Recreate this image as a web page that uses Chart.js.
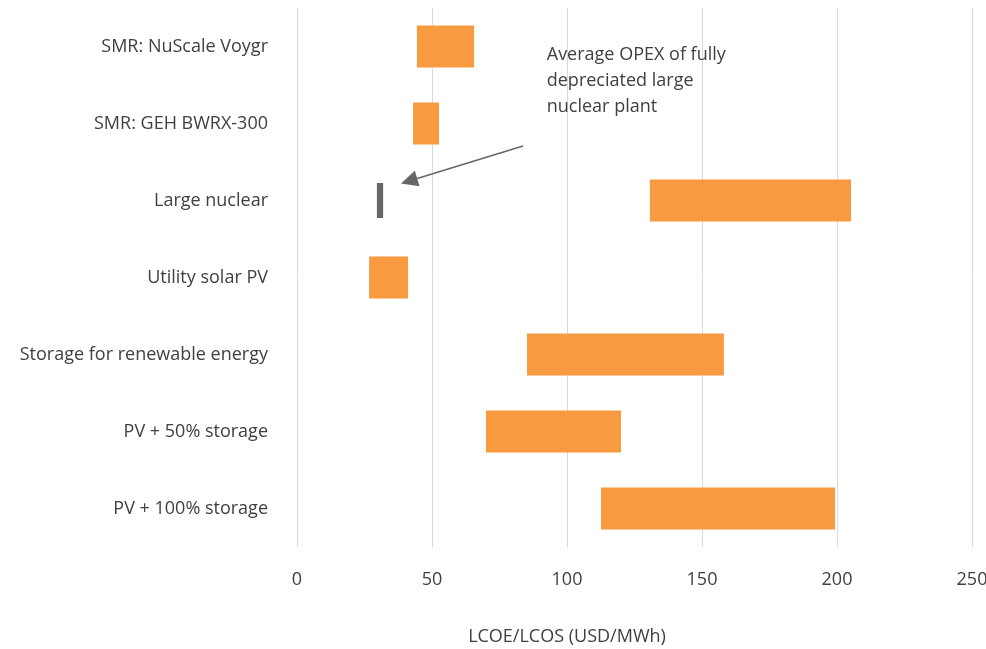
<!DOCTYPE html>
<html>
<head>
<meta charset="utf-8">
<script src="https://cdn.jsdelivr.net/npm/chart.js@4"></script>
<style>
  html, body { margin: 0; padding: 0; background: #fff; }
  #wrap { width: 986px; height: 649px; }
</style>
</head>
<body>
<div id="wrap"><canvas id="c" width="986" height="649"></canvas></div>
<script>
// categorias y rangos (USD/MWh)
const categorias = [
  'SMR: NuScale Voygr',
  'SMR: GEH BWRX-300',
  'Large nuclear',
  'Utility solar PV',
  'Storage for renewable energy',
  'PV + 50% storage',
  'PV + 100% storage'
];
const rangoMin = [44.4, 43.0, 130.7, 26.7, 85.2, 70.0, 112.6];
const rangoMax = [65.6, 52.6, 205.2, 41.1, 158.1, 120.0, 199.3];

// OPEX medio de nuclear grande amortizada
const opexMin = [null, null, 29.6, null, null, null, null];
const opexMax = [null, null, 31.9, null, null, null, null];

const ticksX = [0, 50, 100, 150, 200, 250];
const tituloX = 'LCOE/LCOS (USD/MWh)';
const notaTexto = ['Average OPEX of fully', 'depreciated large', 'nuclear plant'];

const FUENTE = '"Open Sans", "Noto Sans", sans-serif';
const GRIS_TEXTO = '#404040';

// plugin para el titulo del eje y la flecha de la nota
const extras = {
  id: 'extras',
  afterDraw(chart) {
    const ctx = chart.ctx;
    const x = chart.scales.x;
    const y = chart.scales.y;
    ctx.save();
    ctx.fillStyle = GRIS_TEXTO;
    ctx.font = '18px ' + FUENTE;
    ctx.textAlign = 'center';
    ctx.textBaseline = 'middle';
    ctx.fillText(tituloX, x.getPixelForValue(100), 637);

    // texto de la nota
    ctx.textAlign = 'left';
    const nx = x.getPixelForValue(92.5);
    notaTexto.forEach((t, i) => ctx.fillText(t, nx, 55 + i * 26));

    // flecha
    const x0 = x.getPixelForValue(83.7), y0 = 146;
    const x1 = x.getPixelForValue(38.5), y1 = y.getPixelForValue(2) - 17;
    const ang = Math.atan2(y1 - y0, x1 - x0);
    const largo = 17;
    const bx = x1 - largo * Math.cos(ang), by = y1 - largo * Math.sin(ang);
    ctx.strokeStyle = '#666666';
    ctx.fillStyle = '#666666';
    ctx.lineWidth = 1.5;
    ctx.beginPath();
    ctx.moveTo(x0, y0);
    ctx.lineTo(bx, by);
    ctx.stroke();
    ctx.beginPath();
    ctx.moveTo(x1, y1);
    ctx.lineTo(bx + 8 * Math.sin(ang), by - 8 * Math.cos(ang));
    ctx.lineTo(bx - 8 * Math.sin(ang), by + 8 * Math.cos(ang));
    ctx.closePath();
    ctx.fill();
    ctx.restore();
  }
};

new Chart(document.getElementById('c'), {
  type: 'bar',
  data: {
    labels: categorias,
    datasets: [
      {
        label: 'Rango',
        data: rangoMin.map((v, i) => [v, rangoMax[i]]),
        backgroundColor: '#F79A40',
        barPercentage: 0.545,
        categoryPercentage: 1,
        grouped: false
      },
      {
        label: 'OPEX',
        data: opexMin.map((v, i) => v === null ? null : [v, opexMax[i]]),
        backgroundColor: '#666666',
        barPercentage: 0.455,
        categoryPercentage: 1,
        grouped: false
      }
    ]
  },
  options: {
    indexAxis: 'y',
    responsive: false,
    animation: false,
    layout: { padding: { top: 8, right: 14, left: 0, bottom: 0 } },
    plugins: {
      legend: { display: false },
      tooltip: { enabled: false }
    },
    scales: {
      x: {
        min: 0,
        max: 250,
        afterBuildTicks: (s) => { s.ticks = ticksX.map(v => ({ value: v })); },
        afterFit: (s) => { s.height = 102; s.paddingLeft = 0; s.paddingRight = 0; },
        grid: { color: '#d9d9d9', drawTicks: false, lineWidth: 1 },
        border: { display: false },
        ticks: {
          padding: 22,
          color: GRIS_TEXTO,
          font: { family: FUENTE, size: 18 }
        }
      },
      y: {
        afterFit: (s) => { s.width = 297; s.paddingTop = 0; s.paddingBottom = 0; },
        grid: { display: false, drawTicks: false },
        border: { display: false },
        ticks: {
          padding: 29,
          color: GRIS_TEXTO,
          font: { family: FUENTE, size: 18 }
        }
      }
    }
  },
  plugins: [extras]
});
</script>
</body>
</html>
